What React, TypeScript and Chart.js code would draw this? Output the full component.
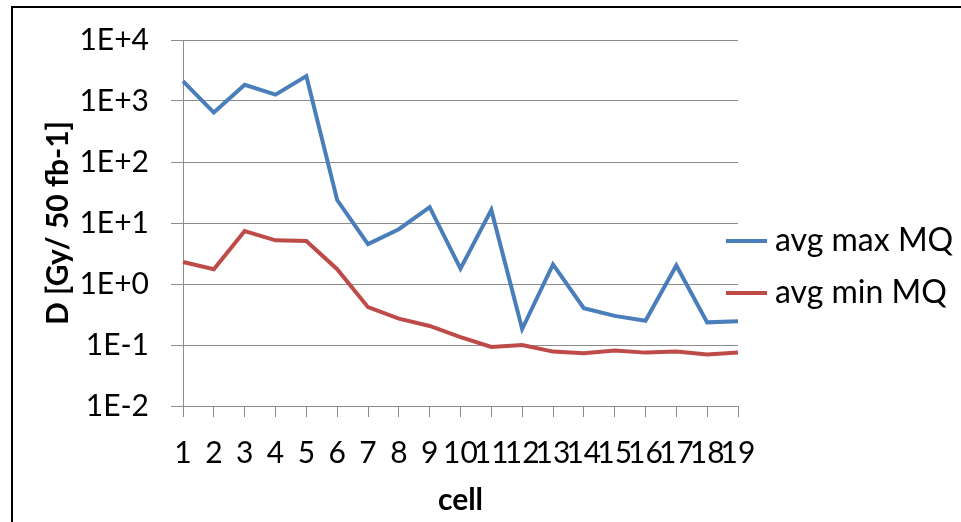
import React, { useEffect, useRef } from "react";
import { Chart, registerables } from "chart.js";

Chart.register(...registerables);

const categories = ["1","2","3","4","5","6","7","8","9","10","11","12","13","14","15","16","17","18","19"];
const avgMaxMQ = [2110, 646, 1840, 1270, 2560, 23.8, 4.5, 7.9, 18.2, 1.78, 16.4, 0.183, 2.09, 0.40, 0.30, 0.25, 2.01, 0.235, 0.245];
const avgMinMQ = [2.3, 1.75, 7.4, 5.2, 5.06, 1.75, 0.417, 0.27, 0.205, 0.135, 0.093, 0.10, 0.078, 0.073, 0.081, 0.075, 0.078, 0.070, 0.075];
const yTicks = [1e-2, 1e-1, 1, 10, 100, 1000, 10000];
const seriesNames = ["avg max MQ", "avg min MQ"];
const seriesColors = ["#4A7EBB", "#BE4B48"];

const FONT = "Lato, 'DejaVu Sans', sans-serif";
const GRID = "#8c8c8c";

function fmt(v: number) {
  const e = Math.round(Math.log10(v));
  return "1E" + (e >= 0 ? "+" : "") + e;
}

const framePlugin = {
  id: "frame",
  afterDraw(chart: any) {
    const ctx = chart.ctx;
    ctx.save();
    ctx.strokeStyle = "#000";
    ctx.lineWidth = 2;
    ctx.beginPath();
    ctx.moveTo(12, 2000);
    ctx.lineTo(12, 7);
    ctx.lineTo(2000, 7);
    ctx.stroke();
    // legend
    const items = chart.data.datasets;
    const ys = [241, 293];
    items.forEach((ds: any, i: number) => {
      const y = ys[i];
      ctx.strokeStyle = ds.borderColor;
      ctx.lineWidth = 4;
      ctx.beginPath();
      ctx.moveTo(726, y);
      ctx.lineTo(767, y);
      ctx.stroke();
      ctx.fillStyle = "#000";
      ctx.font = "32px " + FONT;
      ctx.textAlign = "left";
      ctx.textBaseline = "middle";
      ctx.fillText(ds.label, 775, y);
    });
    ctx.restore();
  },
};

export default function App() {
  const ref = useRef<HTMLCanvasElement | null>(null);
  useEffect(() => {
    document.body.style.margin = "0";
    const chart = new Chart(ref.current as HTMLCanvasElement, {
      type: "line",
      data: {
        labels: categories,
        datasets: [
          { label: seriesNames[0], data: avgMaxMQ, borderColor: seriesColors[0], backgroundColor: seriesColors[0], borderWidth: 4, pointRadius: 0, tension: 0 },
          { label: seriesNames[1], data: avgMinMQ, borderColor: seriesColors[1], backgroundColor: seriesColors[1], borderWidth: 4, pointRadius: 0, tension: 0 },
        ],
      },
      options: {
        animation: false,
        responsive: false,
        devicePixelRatio: 1,
        layout: { padding: { left: 0, top: 37, right: 223, bottom: 0 } },
        plugins: { legend: { display: false }, tooltip: { enabled: false } },
        scales: {
          x: {
            type: "category",
            offset: false,
            grid: { display: true, drawOnChartArea: false, drawTicks: true, tickLength: 11, color: GRID },
            border: { display: true, color: GRID, width: 1 },
            ticks: { autoSkip: false, maxRotation: 0, minRotation: 0, padding: 18, color: "#000", font: { family: FONT, size: 30 } },
            title: { display: true, text: "cell", color: "#000", font: { family: FONT, size: 30, weight: "bold" }, padding: { top: 0, bottom: 4 } },
            afterFit: (s: any) => { s.height = 116; },
          },
          y: {
            type: "logarithmic",
            min: 0.01,
            max: 10000,
            afterBuildTicks: (s: any) => { s.ticks = yTicks.map((v) => ({ value: v })); },
            grid: { color: GRID, tickLength: 12, drawTicks: true },
            border: { display: true, color: GRID, width: 1 },
            ticks: { padding: 22, color: "#000", font: { family: FONT, size: 30 }, callback: (v: any) => fmt(Number(v)) },
            title: { display: true, text: "D [Gy/ 50 fb-1]", color: "#000", font: { family: FONT, size: 30, weight: "bold" }, padding: { top: 40, bottom: 0 } },
            afterFit: (s: any) => { s.width = 183; },
          },
        },
      },
      plugins: [framePlugin],
    } as any);
    return () => chart.destroy();
  }, []);
  return <canvas ref={ref} width={961} height={522} style={{ display: "block", width: 961, height: 522 }} />;
}
